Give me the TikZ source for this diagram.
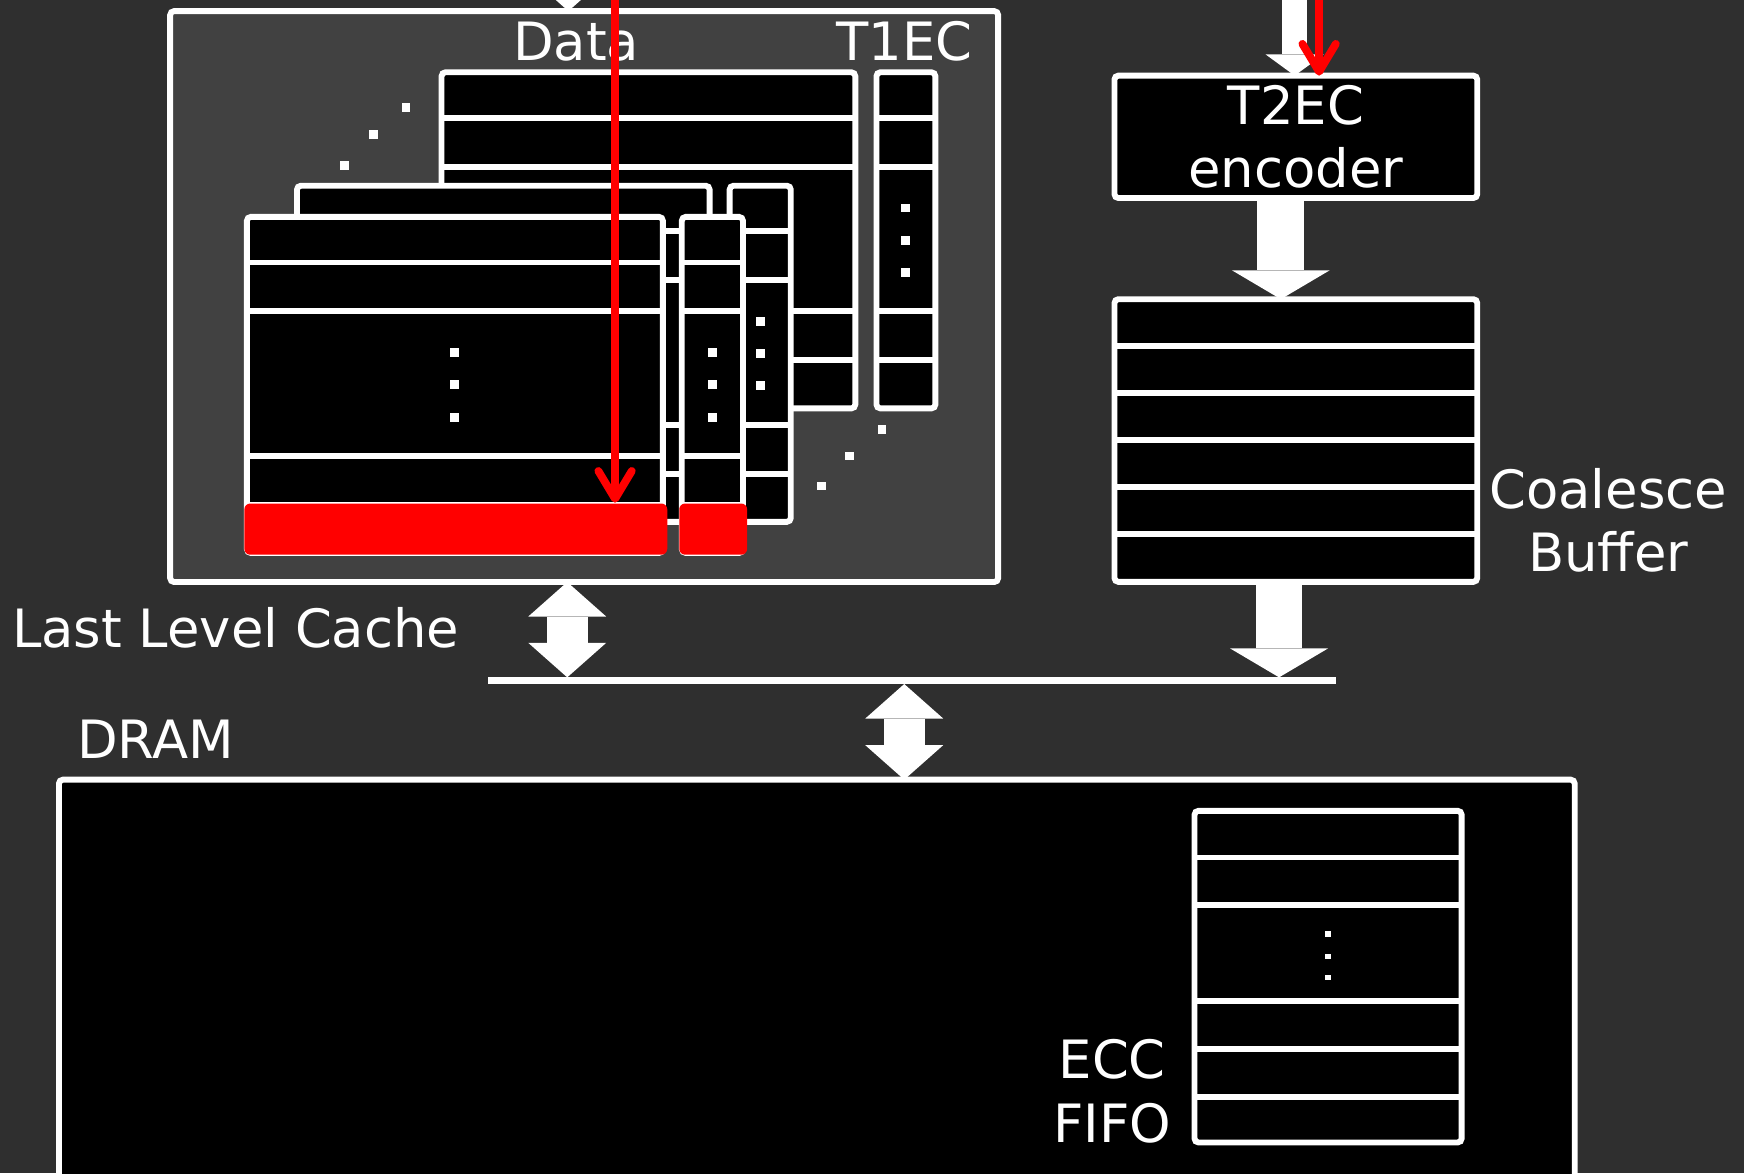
\documentclass[tikz,border=0pt]{standalone}
\usepackage{fontspec}
\setmainfont{DejaVu Sans}
\usetikzlibrary{positioning,arrows.meta,calc}
\definecolor{slidebg}{HTML}{2F2F2F}
\definecolor{llcgray}{HTML}{414141}
\definecolor{hitred}{HTML}{FF0000}

\begin{document}
\begin{tikzpicture}[x=0.01cm,y=-0.01cm,
    lbl/.style={text=white,font=\fontsize{13.5}{16.2}\selectfont,align=center,inner sep=0pt},
    blk/.style={draw=white,fill=black,line width=1.5pt,rounded corners=1pt,inner sep=0pt,outer sep=0pt,anchor=north west},
    rowline/.style={white,line width=1.5pt},
    dotsq/.style={fill=white,minimum size=0.08cm,inner sep=0pt},
    hitrow/.style={fill=hitred,rounded corners=1.5pt,inner sep=0pt,anchor=north west,minimum height=0.46cm},
    fat/.style={white,line width=0.42cm,-{Triangle[width=0.88cm,length=0.26cm,line width=0pt]}},
    feed/.style={white,line width=0.23cm,-{Triangle[width=0.52cm,length=0.19cm,line width=0pt]}},
    dbl/.style={white,line width=0.37cm,{Triangle[width=0.70cm,length=0.31cm,line width=0pt]}-{Triangle[width=0.70cm,length=0.31cm,line width=0pt]}},
    hot/.style={hitred,line width=2pt,-{Straight Barb[length=0.25cm,width=0.30cm,round]}}]
  \useasboundingbox (0,0) rectangle (1568,1055);
  \fill[slidebg] (0,0) rectangle (1568,1055);
  \clip (0,0) rectangle (1568,1055);

  % last level cache
  \node[blk,fill=llcgray,minimum width=7.44cm,minimum height=5.13cm] (llc) at (153,10) {};
  \coordinate (llcin) at (511,-120);
  \draw[dbl] (llcin) -- (llc.north -| llcin);
  \node[lbl,anchor=base] (datalbl) at (518,54) {Data};
  \node[lbl,anchor=base] (t1lbl) at (813,54) {T1EC};

  % ways, back to front
  \foreach \n/\x/\y/\w in {dback/397/65/372, tback/788/65/53, dmid/267/167/371, tmid/656/167/55, dfront/222/195/374, tfront/613/195/55}{
    \node[blk,minimum width=\w*0.01cm,minimum height=3.02cm] (\n) at (\x,\y) {};
    \foreach \dy in {41,85,215,259}
      \draw[rowline] ($(\n.north west)+(0,\dy)$) -- ($(\n.north east)+(0,\dy)$);
    \foreach \dy [count=\k] in {122,151,180}
      \node[dotsq] (\n-\k) at ($(\n.north)+(0,\dy)$) {};
  }
  \foreach \x/\y [count=\i] in {365/97,336/121,310/149,793/386,764/410,739/437}
    \node[dotsq] (skew\i) at (\x,\y) {};

  % hit line
  \node[hitrow,minimum width=3.80cm] (hit) at (219,452) {};
  \node[hitrow,minimum width=0.61cm] (hitec) at (610,452) {};
  \coordinate (hotin) at (553,-20);
  \draw[hot] (hotin) -- (hit.north -| hotin);

  % encoder and coalesce buffer
  \node[blk,lbl,minimum width=3.26cm,minimum height=1.10cm] (enc) at (1002,68) {T2EC\\encoder};
  \coordinate (encin) at (1164,-20);
  \coordinate (hotin2) at (1186,-20);
  \draw[feed] (encin) -- (enc.north -| encin);
  \draw[hot] (hotin2) -- (enc.north -| hotin2);

  \node[blk,minimum width=3.26cm,minimum height=2.54cm] (cbuf) at (1002,269) {};
  \foreach \i in {1,...,5}
    \draw[rowline] ($(cbuf.north west)+(0,\i*42.3)$) -- ($(cbuf.north east)+(0,\i*42.3)$);
  \node[lbl] (cbuflbl) at (1446,468) {Coalesce\\Buffer};
  \draw[fat] ([xshift=-0.135cm]enc.south) -- ([xshift=-0.135cm]cbuf.north);

  % bus
  \coordinate (busL) at (439,612);
  \coordinate (busR) at (1201,612);
  \coordinate (busA) at (510,609);
  \coordinate (busB) at (1150,609);
  \coordinate (busC) at (813,615);
  \draw[white,line width=0.06cm] (busL) -- (busR);
  \draw[dbl] (llc.south -| busA) -- (busA);
  \draw[fat] (cbuf.south -| busB) -- (busB);
  \node[lbl,anchor=base] (llclbl) at (212,582) {Last Level Cache};

  % dram
  \node[blk,minimum width=13.62cm,minimum height=4cm] (dram) at (53,701) {};
  \draw[dbl] (busC) -- (dram.north -| busC);
  \node[lbl,anchor=base] (dramlbl) at (140,682) {DRAM};
  \node[blk,minimum width=2.40cm,minimum height=2.98cm] (fifo) at (1074,729) {};
  \foreach \dy in {42,85,171,214,257}
    \draw[rowline] ($(fifo.north west)+(0,\dy)$) -- ($(fifo.north east)+(0,\dy)$);
  \foreach \dy [count=\k] in {111,131,150}
    \node[dotsq,minimum size=0.05cm] (fifo-\k) at ($(fifo.north)+(0,\dy)$) {};
  \node[lbl] (fifolbl) at (1000,981) {ECC\\FIFO};
\end{tikzpicture}
\end{document}
